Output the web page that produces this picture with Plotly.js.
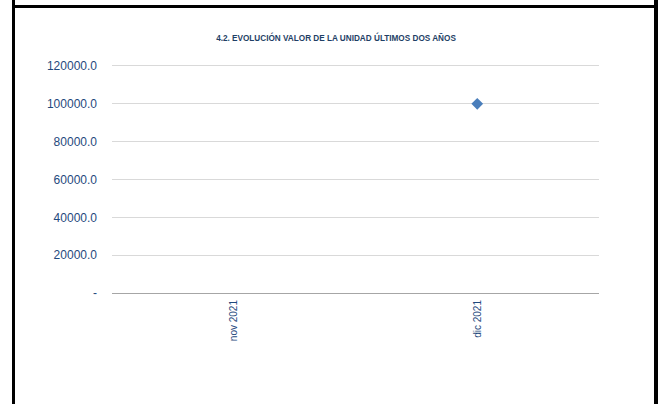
<!DOCTYPE html>
<html>
<head>
<meta charset="utf-8">
<script src="https://cdn.plot.ly/plotly-3.0.1.min.js"></script>
<style>
  html, body { margin: 0; padding: 0; background: #fff; overflow: hidden; }
  #wrap { position: relative; width: 658px; height: 404px; }
  #chart { position: absolute; left: 0; top: 0; width: 658px; height: 404px; }
  .ln { position: absolute; background: #000; }
</style>
</head>
<body>
<div id="wrap">
  <div id="chart"></div>
  <div class="ln" style="left:12px; top:0; width:3px; height:404px;"></div>
  <div class="ln" style="left:654px; top:0; width:4px; height:404px;"></div>
  <div class="ln" style="left:12px; top:5px; width:646px; height:3px;"></div>
</div>
<script>
const categories = ['nov 2021', 'dic 2021'];
const unitValues = [null, 100000];
const yTickVals = [0, 20000, 40000, 60000, 80000, 100000, 120000];
const yTickText = ['-', '20000.0', '40000.0', '60000.0', '80000.0', '100000.0', '120000.0'];
const chartTitle = '4.2. EVOLUCIÓN VALOR DE LA UNIDAD ÚLTIMOS DOS AÑOS';

const textColor = '#1f497d';

const data = [{
  type: 'scatter',
  mode: 'markers',
  x: categories,
  y: unitValues,
  marker: { symbol: 'diamond', size: 9, color: '#4a7ebb' },
  hoverinfo: 'x+y'
}];

const layout = {
  width: 658,
  height: 404,
  margin: { l: 112, r: 59, t: 64, b: 111 },
  paper_bgcolor: '#ffffff',
  plot_bgcolor: '#ffffff',
  showlegend: false,
  font: { family: 'Liberation Sans, Arial, sans-serif', color: textColor },
  title: {
    text: chartTitle,
    font: { family: 'Liberation Sans, Arial, sans-serif', size: 8.2, color: '#1f3f66', weight: 'bold' },
    xref: 'container', yref: 'container',
    x: 336 / 658, xanchor: 'center',
    y: 1 - 38.5 / 404, yanchor: 'middle'
  },
  xaxis: {
    type: 'category',
    range: [-0.5, 1.5],
    tickangle: -90,
    tickfont: { size: 10, color: textColor },
    showgrid: false,
    zeroline: false,
    showline: false,
    ticks: '',
    ticklabelstandoff: 4,
    fixedrange: true
  },
  yaxis: {
    range: [0, 121050],
    tickvals: yTickVals,
    ticktext: yTickText,
    tickfont: { size: 12, color: textColor },
    showgrid: true,
    gridcolor: '#d9d9d9',
    gridwidth: 1,
    zeroline: true,
    zerolinecolor: '#a6a6a6',
    zerolinewidth: 1,
    showline: false,
    ticks: '',
    ticklabelstandoff: 14,
    fixedrange: true
  }
};

Plotly.newPlot('chart', data, layout, { displayModeBar: false, staticPlot: true });
</script>
</body>
</html>
